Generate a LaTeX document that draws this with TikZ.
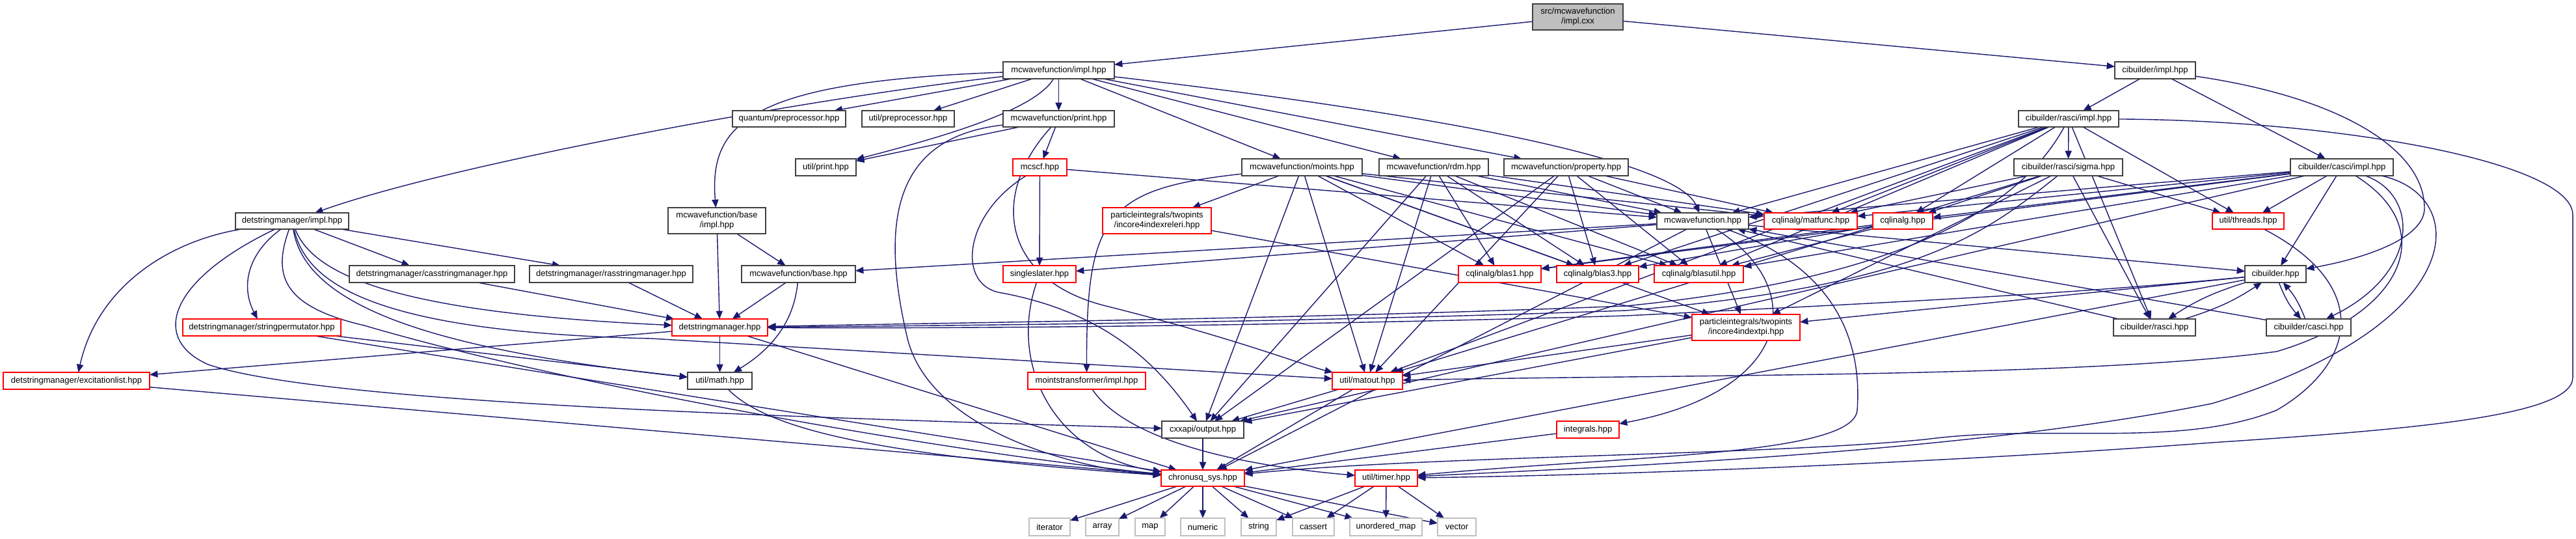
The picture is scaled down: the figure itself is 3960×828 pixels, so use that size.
\documentclass[tikz,border=0pt]{standalone}
\usepackage{fontspec}
\setmainfont{Liberation Sans}
\usetikzlibrary{arrows.meta}
\definecolor{edgec}{HTML}{191970}
\definecolor{leafc}{HTML}{BFBFBF}
\definecolor{rootfill}{HTML}{BFBFBF}
\definecolor{boxc}{HTML}{404040}
\definecolor{redc}{HTML}{FF0000}
\pgfdeclarelayer{bg}
\pgfsetlayers{bg,main}
\newcommand\mknd[7]{%
 \pgfmathsetmacro\mkndw{(#4-#2)*0.284528}%
 \pgfmathsetmacro\mkndh{(#5-#3)*0.284528}%
 \node[#6,minimum width=\mkndw pt,minimum height=\mkndh pt] (#1) at ({(#2+#4)/2},{(#3+#5)/2}) {#7};}
\tikzset{
 nb/.style={draw=boxc, line width=0.5pt, fill=white, inner sep=0pt, outer sep=0pt, align=center},
 nr/.style={nb, draw=redc},
 nl/.style={nb, draw=leafc},
 nroot/.style={nb, fill=rootfill},
 e/.style={draw=edgec, line width=0.4pt, -{Triangle[length=3.5pt,width=2.9pt]}}
}
\begin{document}
\begin{tikzpicture}[x=0.01cm, y=-0.01cm, font=\fontsize{3.7}{4.3}\selectfont]
\useasboundingbox (0,0) rectangle (3960,828);
\mknd{root}{2356}{6}{2495}{46}{nroot}{src/mcwavefunction\\/impl.cxx}
\mknd{MI}{1542}{95}{1713}{121}{nb}{mcwavefunction/impl.hpp}
\mknd{CBI}{3251}{95}{3375}{121}{nb}{cibuilder/impl.hpp}
\mknd{QP}{1126}{170}{1300}{195}{nb}{quantum/preprocessor.hpp}
\mknd{UP}{1325}{170}{1467}{195}{nb}{util/preprocessor.hpp}
\mknd{MP}{1542}{170}{1713}{195}{nb}{mcwavefunction/print.hpp}
\mknd{RI}{3103}{170}{3257}{195}{nb}{cibuilder/rasci/impl.hpp}
\mknd{UPR}{1223}{244}{1316}{270}{nb}{util/print.hpp}
\mknd{MCSCF}{1557}{244}{1640}{270}{nr}{mcscf.hpp}
\mknd{MO}{1909}{244}{2094}{270}{nb}{mcwavefunction/moints.hpp}
\mknd{RDM}{2120}{244}{2288}{270}{nb}{mcwavefunction/rdm.hpp}
\mknd{PROP}{2312}{244}{2503}{270}{nb}{mcwavefunction/property.hpp}
\mknd{SIGMA}{3096}{244}{3263}{270}{nb}{cibuilder/rasci/sigma.hpp}
\mknd{CI}{3521}{244}{3679}{270}{nb}{cibuilder/casci/impl.hpp}
\mknd{DMI}{362}{327}{536}{352}{nb}{detstringmanager/impl.hpp}
\mknd{BI}{1027}{319}{1177}{359}{nb}{mcwavefunction/base\\/impl.hpp}
\mknd{RELERI}{1695}{319}{1862}{359}{nr}{particleintegrals/twopints\\/incore4indexreleri.hpp}
\mknd{MCW}{2547}{327}{2688}{352}{nb}{mcwavefunction.hpp}
\mknd{MATFUNC}{2712}{327}{2855}{352}{nr}{cqlinalg/matfunc.hpp}
\mknd{CQL}{2879}{327}{2971}{352}{nr}{cqlinalg.hpp}
\mknd{THREADS}{3401}{327}{3511}{352}{nr}{util/threads.hpp}
\mknd{CASSM}{537}{408}{791}{434}{nb}{detstringmanager/casstringmanager.hpp}
\mknd{RASSM}{814}{408}{1065}{434}{nb}{detstringmanager/rasstringmanager.hpp}
\mknd{BASE}{1140}{408}{1315}{434}{nb}{mcwavefunction/base.hpp}
\mknd{SS}{1542}{408}{1654}{434}{nr}{singleslater.hpp}
\mknd{BLAS1}{2242}{408}{2369}{434}{nr}{cqlinalg/blas1.hpp}
\mknd{BLAS3}{2393}{408}{2519}{434}{nr}{cqlinalg/blas3.hpp}
\mknd{BLASUTIL}{2543}{408}{2680}{434}{nr}{cqlinalg/blasutil.hpp}
\mknd{CBH}{3451}{408}{3545}{434}{nb}{cibuilder.hpp}
\mknd{SPERM}{281}{490}{524}{516}{nr}{detstringmanager/stringpermutator.hpp}
\mknd{DS}{1033}{490}{1180}{516}{nr}{detstringmanager.hpp}
\mknd{TPI}{2601}{483}{2767}{523}{nr}{particleintegrals/twopints\\/incore4indextpi.hpp}
\mknd{RASCI}{3249}{490}{3375}{516}{nb}{cibuilder/rasci.hpp}
\mknd{CASCI}{3484}{490}{3614}{516}{nb}{cibuilder/casci.hpp}
\mknd{EXC}{5}{572}{230}{598}{nr}{detstringmanager/excitationlist.hpp}
\mknd{UMATH}{1057}{572}{1156}{598}{nb}{util/math.hpp}
\mknd{MTI}{1580}{572}{1761}{598}{nr}{mointstransformer/impl.hpp}
\mknd{MATOUT}{2048}{572}{2156}{598}{nr}{util/matout.hpp}
\mknd{OUT}{1786}{647}{1912}{673}{nb}{cxxapi/output.hpp}
\mknd{INT}{2393}{647}{2489}{673}{nr}{integrals.hpp}
\mknd{SYS}{1785}{722}{1913}{747}{nr}{chronusq\_sys.hpp}
\mknd{TIMER}{2083}{722}{2179}{747}{nr}{util/timer.hpp}
\mknd{ITER}{1582}{796}{1645}{823}{nl}{iterator}
\mknd{ARRAY}{1669}{796}{1720}{823}{nl}{array}
\mknd{MAP}{1745}{796}{1791}{823}{nl}{map}
\mknd{NUMERIC}{1815}{796}{1883}{823}{nl}{numeric}
\mknd{STRING}{1908}{796}{1962}{823}{nl}{string}
\mknd{CASSERT}{1987}{796}{2051}{823}{nl}{cassert}
\mknd{UMAP}{2075}{796}{2186}{823}{nl}{unordered\_map}
\mknd{VECTOR}{2210}{796}{2269}{823}{nl}{vector}
\begin{pgfonlayer}{bg}
\foreach \a/\b in {root/MI, root/CBI,
 MI/QP, MI/UP, MI/MP, MI/MO, MI/RDM, MI/PROP,
 MP/UPR, MP/MCSCF, MCSCF/SS, MCSCF/MCW,
 BI/DS, BI/BASE, BASE/DS, DMI/CASSM, DMI/RASSM, CASSM/DS, RASSM/DS,
 DS/EXC, DS/UMATH, DS/SYS, SPERM/UMATH, SPERM/SYS, EXC/SYS, OUT/SYS, INT/SYS,
 MATOUT/OUT, MATOUT/SYS,
 TIMER/STRING, TIMER/CASSERT, TIMER/UMAP, TIMER/VECTOR,
 SYS/ITER, SYS/ARRAY, SYS/MAP, SYS/NUMERIC, SYS/STRING, SYS/CASSERT, SYS/UMAP, SYS/VECTOR,
 MO/MCW, MO/RELERI, MO/BLAS1, MO/BLAS3, MO/BLASUTIL, MO/MATFUNC, MO/MATOUT, MO/OUT, MO/TPI,
 RDM/MCW, RDM/BLAS1, RDM/BLAS3, RDM/BLASUTIL, RDM/MATFUNC, RDM/MATOUT, RDM/OUT,
 PROP/MCW, PROP/BLAS3, PROP/BLASUTIL, PROP/MATFUNC, PROP/MATOUT, PROP/OUT,
 MCW/BASE, MCW/SS, MCW/CBH, MCW/TPI, MCW/SYS,
 RELERI/TPI, TPI/MATOUT, TPI/OUT, CQL/BLAS1, CQL/BLAS3, CQL/BLASUTIL,
 CBI/RI, CBI/CI,
 RI/SIGMA, RI/MCW, RI/MATFUNC, RI/CQL, RI/THREADS, RI/BLAS3, RI/BLASUTIL, RI/RASCI, RI/MATOUT,
 SIGMA/MATFUNC, SIGMA/CQL, SIGMA/THREADS, SIGMA/TPI, SIGMA/MATOUT, SIGMA/RASCI,
 CI/MCW, CI/MATFUNC, CI/CQL, CI/THREADS, CI/BLAS1, CI/BLASUTIL, CI/CBH, CI/OUT,
 CBH/TPI, CBH/SYS, RASCI/MCW, CASCI/MCW}
 \draw[e] (\a) -- (\b);
\draw[e] (MI) .. controls (1250,150) and (700,250) .. (DMI);
\draw[e] (MI) .. controls (1590,170) and (1450,210) .. (UPR);
\draw[e] (MI) .. controls (1150,125) and (1090,190) .. (BI);
\draw[e] (MI) .. controls (2250,180) and (2580,250) .. (MCW);
\draw[e] (MP) .. controls (1380,210) and (1350,330) .. (1395,520) .. controls (1430,660) and (1650,720) .. (SYS);
\draw[e] (MP) .. controls (1520,300) and (1540,430) .. (1700,470) .. controls (1900,520) and (2000,560) .. (MATOUT);
\draw[e] (MCSCF) .. controls (1480,330) and (1470,440) .. (1540,450) .. controls (1700,480) and (1780,560) .. (OUT);
\draw[e] (SS) .. controls (1550,560) and (1620,700) .. (SYS);
\draw[e] (BASE) .. controls (1220,500) and (1180,540) .. (UMATH);
\draw[e] (DMI) .. controls (260,370) and (150,440) .. (EXC);
\draw[e] (DMI) .. controls (260,430) and (230,520) .. (320,560) .. controls (500,620) and (1200,640) .. (OUT);
\draw[e] (DMI) .. controls (380,390) and (370,440) .. (SPERM);
\draw[e] (DMI) .. controls (420,420) and (430,470) .. (560,500) .. controls (900,600) and (1500,700) .. (SYS);
\draw[e] (DMI) .. controls (470,430) and (560,510) .. (1000,520) -- (MATOUT);
\draw[e] (DMI) .. controls (480,420) and (600,480) .. (DS);
\draw[e] (DMI) .. controls (470,480) and (700,540) .. (UMATH);
\draw[e] (UMATH) .. controls (1180,660) and (1350,700) .. (SYS);
\draw[e] (MO) .. controls (1700,290) and (1670,330) .. (MTI);
\draw[e] (MTI) .. controls (1720,660) and (1850,710) .. (TIMER);
\draw[e] (MCW) .. controls (2780,440) and (2760,600) .. (INT);
\draw[e] (MCW) .. controls (2850,420) and (2860,560) .. (2855,630) .. controls (2850,700) and (2500,700) .. (TIMER);
\draw[e] (THREADS) .. controls (3650,440) and (3620,560) .. (3500,630) .. controls (3350,690) and (3150,650) .. (2960,675) .. controls (2700,700) and (2200,700) .. (SYS);
\draw[e] (RI) .. controls (3600,185) and (3955,250) .. (3955,330) -- (3955,580) .. controls (3955,640) and (3700,660) .. (3400,680) .. controls (3000,710) and (2500,730) .. (TIMER);
\draw[e] (CBI) .. controls (3600,150) and (3727,230) .. (3727,320) .. controls (3727,370) and (3620,400) .. (CBH);
\draw[e] (CI) .. controls (3800,300) and (3800,500) .. (3400,620) .. controls (3000,700) and (2400,720) .. (TIMER);
\draw[e] (CI) .. controls (3720,300) and (3720,420) .. (CASCI);
\draw[e] (CI) .. controls (3750,350) and (3700,480) .. (3500,540) .. controls (3200,580) and (2600,575) .. (MATOUT);
\draw[e] (RI) .. controls (3100,330) and (2900,430) .. (2500,470) .. controls (2000,490) and (1500,495) .. (DS);
\draw[e] (SIGMA) .. controls (3050,360) and (2950,440) .. (2500,477) .. controls (2000,495) and (1500,500) .. (DS);
\draw[e] (CBH) .. controls (3200,450) and (3000,460) .. (2500,485) .. controls (2000,500) and (1500,505) .. (DS);
\draw[e] (CBH) to[bend right=8] (RASCI);
\draw[e] (RASCI) to[bend right=8] (CBH);
\draw[e] (CBH) to[bend right=10] (CASCI);
\draw[e] (CASCI) to[bend right=10] (CBH);
\end{pgfonlayer}
\end{tikzpicture}
\end{document}
